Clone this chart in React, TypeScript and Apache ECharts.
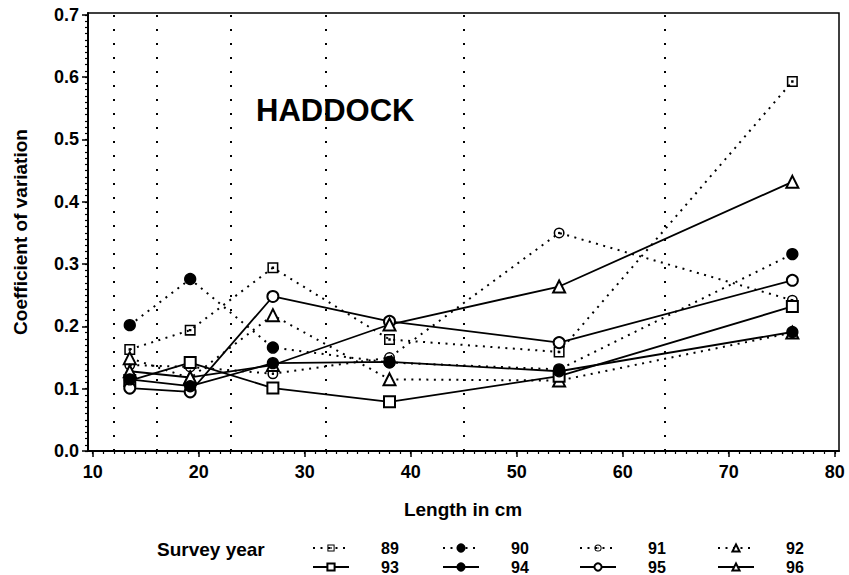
import React, { useEffect, useRef } from "react";
import * as echarts from "echarts";

// ---- data ----
const lengths = [13.5, 19.2, 27, 38, 54, 76];
const years = ["89", "90", "91", "92", "93", "94", "95", "96"];
const cv89 = [0.163, 0.194, 0.294, 0.179, 0.159, 0.593];
const cv90 = [0.202, 0.276, 0.166, 0.142, 0.131, 0.316];
const cv91 = [0.138, 0.135, 0.124, 0.15, 0.35, 0.242];
const cv92 = [0.149, 0.117, 0.218, 0.115, 0.113, 0.19];
const cv93 = [0.113, 0.142, 0.101, 0.079, 0.12, 0.232];
const cv94 = [0.115, 0.104, 0.141, 0.143, 0.128, 0.191];
const cv95 = [0.101, 0.095, 0.248, 0.208, 0.174, 0.274];
const cv96 = [0.128, 0.118, 0.138, 0.203, 0.264, 0.432];
const classBounds = [12, 16, 23, 32, 45, 64];
const xTickLabels = [10, 20, 30, 40, 50, 60, 70, 80];
const yTickLabels = [0, 0.1, 0.2, 0.3, 0.4, 0.5, 0.6, 0.7];

const FONT = "'Liberation Sans', Arial, Helvetica, sans-serif";
const SQ_DOT = "path://M0,0H10V10H0Z M1.4,1.4V8.6H8.6V1.4Z M3.9,3.9H6.1V6.1H3.9Z";
const CIRC_DOT =
  "path://M5,0A5,5,0,1,1,5,10A5,5,0,1,1,5,0Z M5,1.4A3.6,3.6,0,1,0,5,8.6A3.6,3.6,0,1,0,5,1.4Z M5,3.9A1.1,1.1,0,1,1,5,6.1A1.1,1.1,0,1,1,5,3.9Z";

const seriesDefs = [
  { name: "89", values: cv89, symbol: SQ_DOT, dotted: true },
  { name: "90", values: cv90, symbol: "circle", dotted: true },
  { name: "91", values: cv91, symbol: CIRC_DOT, dotted: true },
  { name: "92", values: cv92, symbol: "emptyTriangle", dotted: true },
  { name: "93", values: cv93, symbol: "emptyRect", dotted: false },
  { name: "94", values: cv94, symbol: "circle", dotted: false },
  { name: "95", values: cv95, symbol: "emptyCircle", dotted: false },
  { name: "96", values: cv96, symbol: "emptyTriangle", dotted: false },
];

export default function App() {
  const ref = useRef<HTMLDivElement>(null);
  useEffect(() => {
    if (!ref.current) return;
    const chart = echarts.init(ref.current, undefined, { renderer: "svg" });
    const xMin = 9.56;
    const xMax = 80.4;
    const yMax = 0.703;
    const xMinor: number[] = [];
    for (let v = 10; v <= 80; v++) xMinor.push(v);
    const yMinor: number[] = [];
    for (let i = 0; i <= 70; i++) yMinor.push(+(i * 0.01).toFixed(2));

    const txt = { color: "#000", fontWeight: "bold" as const, fontFamily: FONT };

    const series: any[] = seriesDefs.map((d, i) => {
      const isPath = d.symbol.startsWith("path://");
      const s: any = {
        name: d.name,
        type: "line",
        data: lengths.map((x, k) => [x, d.values[k]]),
        symbol: d.symbol,
        symbolSize: d.symbol === "emptyTriangle" ? 12 : 11,
        showAllSymbol: true,
        lineStyle: {
          color: "#000",
          width: d.dotted ? 2 : 1.8,
          type: d.dotted ? [2, 5.5] : "solid",
        },
        itemStyle: {
          color: "#000",
          borderColor: "#000",
          borderWidth: isPath ? 0 : 1.3,
        },
        z: d.name === "94" ? 4 : 3,
      };
      if (i === 0) {
        s.markLine = {
          silent: true,
          symbol: ["none", "none"],
          label: { show: false },
          lineStyle: { color: "#000", type: [2, 12], width: 2 },
          data: classBounds.map((v) => ({ xAxis: v })),
          z: 1,
        };
      }
      return s;
    });

    const colCenters = [330, 460, 597, 735];
    const rowTops = [540, 559];
    const legends = years.map((y, i) => ({
      data: [y],
      left: colCenters[i % 4] - 18,
      top: rowTops[Math.floor(i / 4)],
      itemWidth: 36,
      itemHeight: 9,
      itemGap: 0,
      padding: 0,
      selectedMode: false,
      textStyle: { ...txt, fontSize: 16, lineHeight: 16, padding: [0, 0, 0, 27] },
    }));

    chart.setOption({
      animation: false,
      backgroundColor: "#fff",
      grid: {
        left: 88,
        right: 10,
        top: 13,
        bottom: 124,
        show: true,
        borderColor: "#000",
        borderWidth: 1.5,
        backgroundColor: "transparent",
      },
      xAxis: [
        {
          type: "value",
          min: xMin,
          max: xMax,
          position: "bottom",
          axisLine: { show: true, onZero: false, lineStyle: { color: "#000", width: 2 } },
          axisTick: { show: true, customValues: xTickLabels, length: 6, lineStyle: { color: "#000", width: 1.5 } },
          axisLabel: { customValues: xTickLabels, margin: 12, fontSize: 18, ...txt },
          splitLine: { show: false },
        },
        {
          type: "value",
          min: xMin,
          max: xMax,
          position: "bottom",
          axisLine: { show: false },
          axisTick: { show: true, customValues: xMinor, length: 3, lineStyle: { color: "#000", width: 1.2 } },
          axisLabel: { show: false },
          splitLine: { show: false },
        },
      ],
      yAxis: [
        {
          type: "value",
          min: 0,
          max: yMax,
          position: "left",
          axisLine: { show: true, onZero: false, lineStyle: { color: "#000", width: 2 } },
          axisTick: { show: true, customValues: yTickLabels, length: 6, lineStyle: { color: "#000", width: 1.5 } },
          axisLabel: {
            customValues: yTickLabels,
            margin: 9,
            fontSize: 18,
            ...txt,
            formatter: (v: number) => v.toFixed(1),
          },
          splitLine: { show: false },
        },
        {
          type: "value",
          min: 0,
          max: yMax,
          position: "left",
          axisLine: { show: false },
          axisTick: { show: true, customValues: yMinor, length: 3, lineStyle: { color: "#000", width: 1.2 } },
          axisLabel: { show: false },
          splitLine: { show: false },
        },
      ],
      legend: legends,
      graphic: [
        {
          type: "text",
          left: 256,
          top: 95,
          style: { text: "HADDOCK", fill: "#000", font: `bold 31px ${FONT}` },
        },
        {
          type: "text",
          x: 20,
          y: 232,
          rotation: Math.PI / 2,
          style: {
            text: "Coefficient of variation",
            fill: "#000",
            font: `bold 19px ${FONT}`,
            align: "center",
            verticalAlign: "middle",
          },
        },
        {
          type: "text",
          x: 463,
          y: 509,
          style: {
            text: "Length in cm",
            fill: "#000",
            font: `bold 19px ${FONT}`,
            align: "center",
            verticalAlign: "middle",
          },
        },
        {
          type: "text",
          x: 157,
          y: 549,
          style: {
            text: "Survey year",
            fill: "#000",
            font: `bold 19px ${FONT}`,
            align: "left",
            verticalAlign: "middle",
          },
        },
      ],
      series,
    });
    return () => chart.dispose();
  }, []);
  return (
    <div
      ref={ref}
      style={{ position: "fixed", left: 0, top: 0, width: 849, height: 575, background: "#fff" }}
    />
  );
}
